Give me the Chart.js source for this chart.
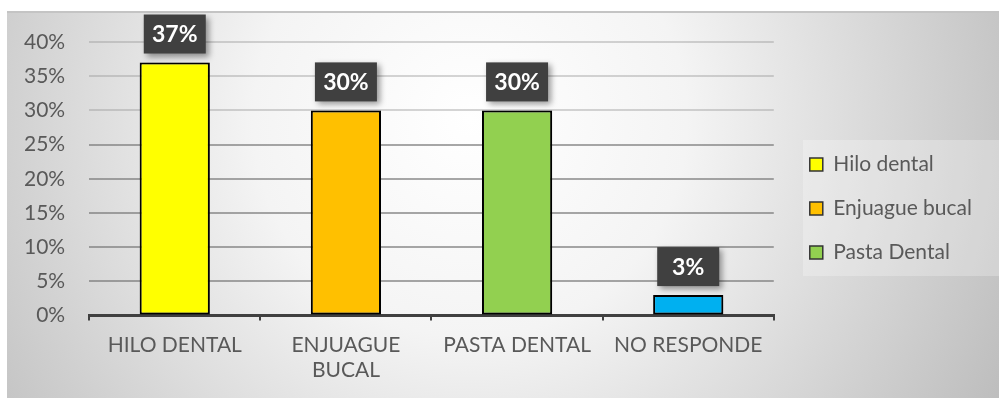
<!DOCTYPE html>
<html>
<head>
<meta charset="utf-8">
<script src="https://cdn.jsdelivr.net/npm/chart.js@4"></script>
<style>
  html, body { margin: 0; padding: 0; background: #fff; }
  canvas { display: block; }
</style>
</head>
<body>
<canvas id="chart" width="999" height="398"></canvas>
<script>
// === Données ===
const categories = ['HILO DENTAL', ['ENJUAGUE', 'BUCAL'], 'PASTA DENTAL', 'NO RESPONDE'];
const legendNames = ['Hilo dental', 'Enjuague bucal', 'Pasta Dental'];
const values = [37, 30, 30, 3];
const barColors = ['#FFFF00', '#FFC000', '#92D050', '#00B0F0'];
const yTicks = [0, 5, 10, 15, 20, 25, 30, 35, 40];

const FONT = 'Lato, "Noto Sans", sans-serif';
const TEXT = '#595959';

// fond dégradé
const backgroundPlugin = {
    id: 'bg',
    beforeDraw(chart) {
        const ctx = chart.ctx;
        ctx.save();
        ctx.fillStyle = '#ffffff';
        ctx.fillRect(0, 0, chart.width, chart.height);
        const g = ctx.createRadialGradient(470, 120, 0, 470, 120, 620);
        g.addColorStop(0, '#ffffff');
        g.addColorStop(0.35, '#f4f4f4');
        g.addColorStop(1, '#bababa');
        ctx.fillStyle = g;
        ctx.fillRect(7, 12, chart.width - 7, chart.height - 12);
        ctx.fillStyle = '#c4c4c4';
        ctx.fillRect(7, 11, chart.width - 7, 2);
        // fond de la légende
        ctx.fillStyle = 'rgba(255,255,255,0.25)';
        ctx.fillRect(803, 140, 196, 136);
        ctx.restore();
    }
};

// ombre des barres
const shadowPlugin = {
    id: 'shadow',
    beforeDatasetsDraw(chart) {
        const ctx = chart.ctx;
        ctx.save();
        ctx.shadowColor = 'rgba(0,0,0,0.3)';
        ctx.shadowBlur = 10;
        ctx.shadowOffsetX = 4;
        ctx.shadowOffsetY = 2;
    },
    afterDatasetsDraw(chart) {
        chart.ctx.restore();
    }
};

// étiquettes de données
const labelPlugin = {
    id: 'valueLabels',
    afterDatasetsDraw(chart) {
        const ctx = chart.ctx;
        const meta = chart.getDatasetMeta(0);
        meta.data.forEach((bar, i) => {
            const w = 62, h = 39;
            const x = bar.x - w / 2;
            const y = bar.y - 9 - h;
            ctx.save();
            ctx.shadowColor = 'rgba(0,0,0,0.4)';
            ctx.shadowBlur = 6;
            ctx.shadowOffsetX = 3;
            ctx.shadowOffsetY = 3;
            ctx.fillStyle = '#404040';
            ctx.fillRect(x, y, w, h);
            ctx.restore();
            ctx.save();
            ctx.fillStyle = '#ffffff';
            ctx.font = 'bold 23px ' + FONT;
            ctx.textAlign = 'center';
            ctx.textBaseline = 'middle';
            ctx.fillText(values[i] + '%', bar.x, y + h / 2 + 1);
            ctx.restore();
        });
    }
};

// décalage de la légende
const legendShift = {
    id: 'legendShift',
    afterLayout(chart) {
        const lg = chart.legend;
        lg.left += 13;
        lg.right += 25;
        lg.top -= 10;
        lg.bottom -= 10;
    }
};

new Chart(document.getElementById('chart').getContext('2d'), {
    type: 'bar',
    data: {
        labels: categories,
        datasets: [{
            data: values,
            backgroundColor: barColors,
            borderColor: '#000000',
            borderWidth: 2,
            borderSkipped: false,
            barPercentage: 0.41,
            categoryPercentage: 1
        }]
    },
    options: {
        responsive: false,
        animation: false,
        devicePixelRatio: 1,
        layout: { padding: { top: 42, right: 30, bottom: 3, left: 0 } },
        plugins: {
            tooltip: { enabled: false },
            legend: {
                position: 'right',
                labels: {
                    boxWidth: 13,
                    boxHeight: 13,
                    padding: 23,
                    color: TEXT,
                    font: { family: FONT, size: 21 },
                    generateLabels: () => legendNames.map((name, i) => ({
                        text: name,
                        fillStyle: barColors[i],
                        strokeStyle: '#333333',
                        lineWidth: 1.5,
                        fontColor: TEXT,
                        index: i
                    }))
                }
            }
        },
        scales: {
            x: {
                grid: {
                    offset: true,
                    drawOnChartArea: false,
                    tickLength: 5,
                    color: '#404040',
                    lineWidth: 2
                },
                border: { color: '#404040', width: 3 },
                ticks: {
                    color: TEXT,
                    padding: 12,
                    maxRotation: 0,
                    autoSkip: false,
                    font: { family: FONT, size: 21 }
                }
            },
            y: {
                min: 0,
                max: 40,
                afterBuildTicks: axis => { axis.ticks = yTicks.map(v => ({ value: v })); },
                grid: {
                    drawTicks: false,
                    lineWidth: 2,
                    color: ctx => ctx.tick && ctx.tick.value >= 30 ? 'rgba(150,150,150,0.4)' : 'rgba(120,120,120,0.65)'
                },
                border: { display: false },
                ticks: {
                    color: TEXT,
                    padding: 24,
                    font: { family: FONT, size: 21 },
                    callback: v => v + '%'
                }
            }
        }
    },
    plugins: [backgroundPlugin, shadowPlugin, labelPlugin, legendShift]
});
</script>
</body>
</html>
